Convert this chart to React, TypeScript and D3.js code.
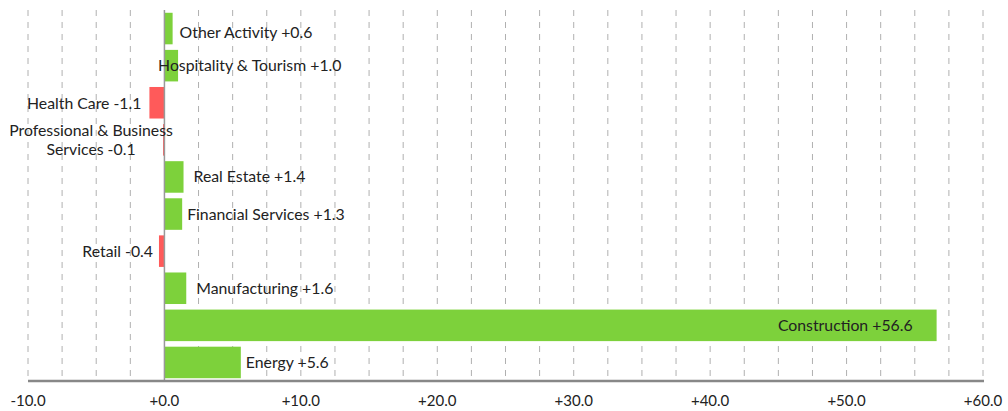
import React, { useEffect, useRef } from "react";
import * as d3 from "d3";

const categories = [
  "Other Activity",
  "Hospitality & Tourism",
  "Health Care",
  "Professional & Business Services",
  "Real Estate",
  "Financial Services",
  "Retail",
  "Manufacturing",
  "Construction",
  "Energy",
];
const values = [0.6, 1.0, -1.1, -0.1, 1.4, 1.3, -0.4, 1.6, 56.6, 5.6];
const tickValues = [-10, 0, 10, 20, 30, 40, 50, 60];

// label layout tweaks (px) so labels sit like the original
const labelShift: Record<string, number> = {
  "Hospitality & Tourism": -27,
  "Real Estate": 3,
  "Manufacturing": 3,
  "Financial Services": -2,
  "Energy": -2,
  "Health Care": -2,
};
const labelDrop: Record<string, number> = {
  "Other Activity": 4,
  "Health Care": 1,
};

const W = 1008;
const H = 411;
const GREEN = "#7dd13b";
const RED = "#ff5a5a";

const fmt = (v: number) => (v >= 0 ? "+" : "") + v.toFixed(1);

const App: React.FC = () => {
  const svgRef = useRef<SVGSVGElement | null>(null);

  useEffect(() => {
    if (!svgRef.current) return;
    const svg = d3.select(svgRef.current);
    svg.selectAll("*").remove();

    const x = d3.scaleLinear().domain([-10, 60]).range([28, 983]);
    const y = d3
      .scaleBand<string>()
      .domain(categories)
      .range([10, 381])
      .paddingInner(0.15)
      .paddingOuter(0.075);
    const axisY = 381;

    // dashed grid every 2.5
    const grid = d3.range(-10, 60.01, 2.5).filter((d) => d !== 0);
    svg
      .append("g")
      .selectAll("line")
      .data(grid)
      .enter()
      .append("line")
      .attr("x1", (d) => x(d))
      .attr("x2", (d) => x(d))
      .attr("y1", 10)
      .attr("y2", axisY)
      .attr("stroke", "#b0b0b0")
      .attr("stroke-width", 1)
      .attr("stroke-dasharray", "6,6");

    // bars
    const rows = categories.map((c, i) => ({ c, v: values[i] }));
    svg
      .append("g")
      .selectAll("rect")
      .data(rows)
      .enter()
      .append("rect")
      .attr("x", (d) => x(Math.min(0, d.v)))
      .attr("y", (d) => y(d.c)!)
      .attr("width", (d) => Math.abs(x(d.v) - x(0)))
      .attr("height", y.bandwidth())
      .attr("fill", (d) => (d.v >= 0 ? GREEN : RED));

    // zero line
    svg
      .append("line")
      .attr("x1", x(0))
      .attr("x2", x(0))
      .attr("y1", 10)
      .attr("y2", axisY)
      .attr("stroke", "#999")
      .attr("stroke-width", 1.5);

    // x axis line
    svg
      .append("line")
      .attr("x1", x(-10))
      .attr("x2", x(60) + 1)
      .attr("y1", axisY)
      .attr("y2", axisY)
      .attr("stroke", "#888")
      .attr("stroke-width", 2.5);

    svg
      .append("g")
      .selectAll("text")
      .data(tickValues)
      .enter()
      .append("text")
      .attr("x", (d) => x(d))
      .attr("y", 406)
      .attr("text-anchor", "middle")
      .attr("font-family", "Lato, sans-serif")
      .attr("font-size", 15)
      .attr("fill", "#222")
      .text((d) => fmt(d));

    // labels
    const labels = svg
      .append("g")
      .attr("font-family", "Lato, sans-serif")
      .attr("font-size", 15.8)
      .attr("fill", "#222");

    rows.forEach((d) => {
      const cy = y(d.c)! + y.bandwidth() / 2 + 5.5 + (labelDrop[d.c] ?? 0);
      const label = `${d.c} ${fmt(d.v)}`;
      const shift = labelShift[d.c] ?? 0;
      const barW = Math.abs(x(d.v) - x(0));
      if (d.v >= 0 && barW > 300) {
        labels
          .append("text")
          .attr("x", x(d.v) - 24)
          .attr("y", cy)
          .attr("text-anchor", "end")
          .text(label);
      } else if (d.v >= 0) {
        labels
          .append("text")
          .attr("x", x(d.v) + 7 + shift)
          .attr("y", cy)
          .text(label);
      } else if (d.c === "Professional & Business Services") {
        const t = labels
          .append("text")
          .attr("x", 91)
          .attr("y", cy)
          .attr("text-anchor", "middle");
        t.append("tspan").attr("x", 91).attr("dy", -9.5).text("Professional & Business");
        t.append("tspan").attr("x", 91).attr("dy", 19).text(`Services ${fmt(d.v)}`);
      } else {
        labels
          .append("text")
          .attr("x", x(d.v) - 6 + shift)
          .attr("y", cy)
          .attr("text-anchor", "end")
          .text(label);
      }
    });
  }, []);

  return (
    <svg
      ref={svgRef}
      width={W}
      height={H}
      style={{ position: "absolute", left: 0, top: 0, background: "#fff" }}
    />
  );
};

export default App;
